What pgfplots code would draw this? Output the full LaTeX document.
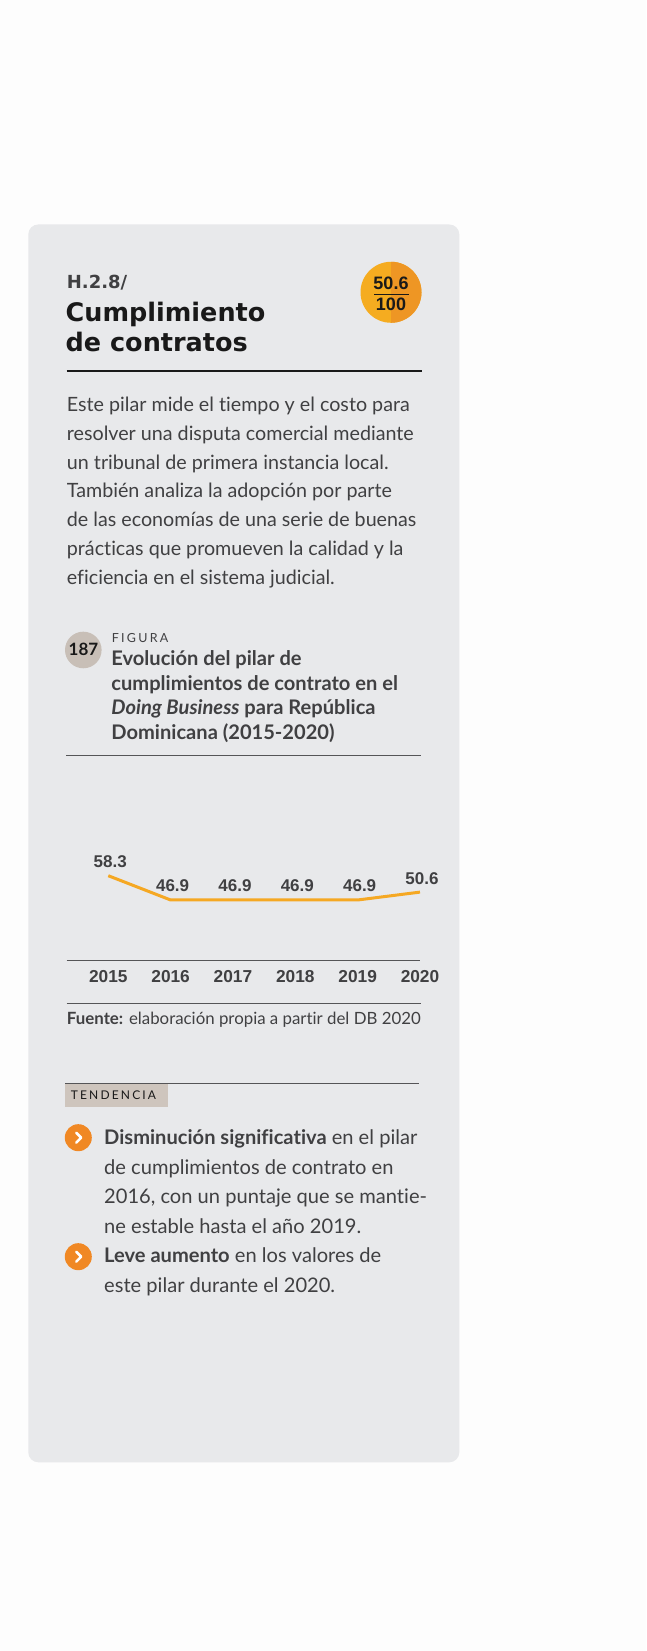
\documentclass[border=0pt]{standalone}
\usepackage{pgfplots}
\pgfplotsset{compat=1.18}
\usepackage{fontspec}
\setmainfont{Lato}[Ligatures=NoCommon]
\newfontfamily\headfont{DejaVu Sans}
\newfontfamily\libfont{Liberation Sans}
\newfontfamily\spacedfont[LetterSpace=18]{Lato}
\definecolor{bg}{RGB}{253,253,253}
\definecolor{panel}{RGB}{232,233,235}
\definecolor{txt}{RGB}{64,64,66}
\definecolor{lineor}{RGB}{245,168,35}
\definecolor{bulletor}{RGB}{240,136,36}
\definecolor{beige}{RGB}{200,191,183}
\definecolor{tagbg}{RGB}{206,197,189}
\definecolor{badgeL}{RGB}{245,172,32}
\definecolor{badgeR}{RGB}{238,150,36}
\definecolor{axisgray}{RGB}{85,85,87}
\definecolor{blk}{RGB}{25,25,25}
\newcommand{\fs}[1]{\fontsize{#1}{#1}\selectfont}
\begin{document}
\begin{tikzpicture}
\fill[bg] (0,0) rectangle (646pt,1651pt);
\begin{scope}[x=1pt,y=-1pt,yshift=1651pt]
\fill[panel, rounded corners=10pt] (28.3,224.5) rectangle (459.3,1462.3);
% header
\node[anchor=base west, inner sep=0, text=txt, font=\headfont\bfseries\fs{18}] at (66.7,288.3) {H.2.8/};
\node[anchor=base west, inner sep=0, text=blk, font=\headfont\bfseries\fs{25.5}] at (65.5,321.7) {Cumplimiento};
\node[anchor=base west, inner sep=0, text=blk, font=\headfont\bfseries\fs{25.5}] at (65.5,351.7) {de contratos};
% badge
\fill[badgeL] (391,292.3) circle[radius=30.5pt];
\begin{scope}
\clip (391,255) rectangle (430,330);
\fill[badgeR] (391,292.3) circle[radius=30.5pt];
\end{scope}
\node[anchor=base, inner sep=0, text=blk, font=\libfont\bfseries\fs{18}] at (391,289.3) {50.6};
\draw[blk, line width=1.3pt] (374,294.3) -- (409,294.3);
\node[anchor=base, inner sep=0, text=blk, font=\libfont\bfseries\fs{18}] at (391,311) {100};
\draw[blk, line width=2pt] (66.7,370.7) -- (422.3,370.7);
% body
\foreach \t [count=\i from 0] in {
 {Este pilar mide el tiempo y el costo para},
 {resolver una disputa comercial mediante},
 {un tribunal de primera instancia local.},
 {También analiza la adopción por parte},
 {de las economías de una serie de buenas},
 {prácticas que promueven la calidad y la},
 {eficiencia en el sistema judicial.}}
 \node[anchor=base west, inner sep=0, text=txt, font=\fs{19.7}] at (66.7,411.5+28.8*\i) {\t};
% figure header
\fill[beige] (83.3,650) circle[radius=18.3pt];
\node[anchor=base, inner sep=0, text=blk, font=\bfseries\fs{17}] at (83.5,656) {187};
\node[anchor=base west, inner sep=0, text=txt, font=\spacedfont\fs{12.5}] at (111.7,642.7) {FIGURA};
\node[anchor=base west, inner sep=0, text=txt, font=\bfseries\fs{20.1}] at (111.2,665.7) {Evolución del pilar de};
\node[anchor=base west, inner sep=0, text=txt, font=\bfseries\fs{20.1}] at (111.2,690.2) {cumplimientos de contrato en el};
\node[anchor=base west, inner sep=0, text=txt, font=\bfseries\fs{20.1}] at (111.2,714.7) {\textit{Doing Business} para República};
\node[anchor=base west, inner sep=0, text=txt, font=\bfseries\fs{20.1}] at (111.2,739.2) {Dominicana (2015-2020)};
\draw[axisgray, line width=1.2pt] (66,755.7) -- (420.7,755.7);
% source
\draw[axisgray, line width=1.2pt] (66.7,1003.3) -- (420.7,1003.3);
\node[anchor=base west, inner sep=0, text=txt, font=\fs{16.85}] at (66.7,1025) {\textbf{Fuente:} elaboración propia a partir del DB 2020};
% tendencia
\draw[axisgray, line width=1.2pt] (65,1083.3) -- (419.3,1083.3);
\fill[tagbg] (65,1084) rectangle (167.7,1106.7);
\node[anchor=base west, inner sep=0, text=blk, font=\spacedfont\fs{12}] at (70.7,1099.3) {TENDENCIA};
\foreach \y in {1137.7,1256.7}{
 \fill[bulletor] (78.3,\y) circle[radius=13.5pt];
 \draw[white, line width=2.6pt, line cap=round, line join=round] (76.2,\y-5) -- (81.2,\y) -- (76.2,\y+5);
}
\foreach \t [count=\i from 0] in {
 {\textbf{Disminución significativa} en el pilar},
 {de cumplimientos de contrato en},
 {2016, con un puntaje que se mantie-},
 {ne estable hasta el año 2019.},
 {\textbf{Leve aumento} en los valores de},
 {este pilar durante el 2020.}}
 \node[anchor=base west, inner sep=0, text=txt, font=\fs{20.1}] at (104,1145+29.5*\i) {\t};
\end{scope}
% chart
\begin{axis}[
  at={(66.7pt,690.3pt)}, anchor=south west,
  scale only axis, width=353.3pt, height=88.6pt,
  xmin=-0.667, xmax=5, ymin=18.4, ymax=60,
  axis x line*=bottom, axis y line=none,
  x axis line style={draw=axisgray, line width=1.2pt, -},
  xtick={0,1,2,3,4,5},
  xticklabels={2015,2016,2017,2018,2019,2020},
  major tick length=0pt,
  xticklabel style={anchor=base, yshift=-21.8pt, font=\libfont\bfseries\fs{17.3}, text=txt},
  clip=false,
  /pgf/number format/assume math mode=true,
  nodes near coords,
  every node near coord/.append style={anchor=base, yshift=8pt, xshift=2pt, inner sep=0pt, font=\libfont\bfseries\fs{17}, text=txt},
]
\addplot[lineor, line width=3pt, line join=round, no marks] coordinates {
 (0,58.3) (1,46.9) (2,46.9) (3,46.9) (4,46.9) (5,50.6)
};
\end{axis}
\pgfresetboundingbox
\useasboundingbox (0,0) rectangle (646pt,1651pt);
\end{tikzpicture}
\end{document}
